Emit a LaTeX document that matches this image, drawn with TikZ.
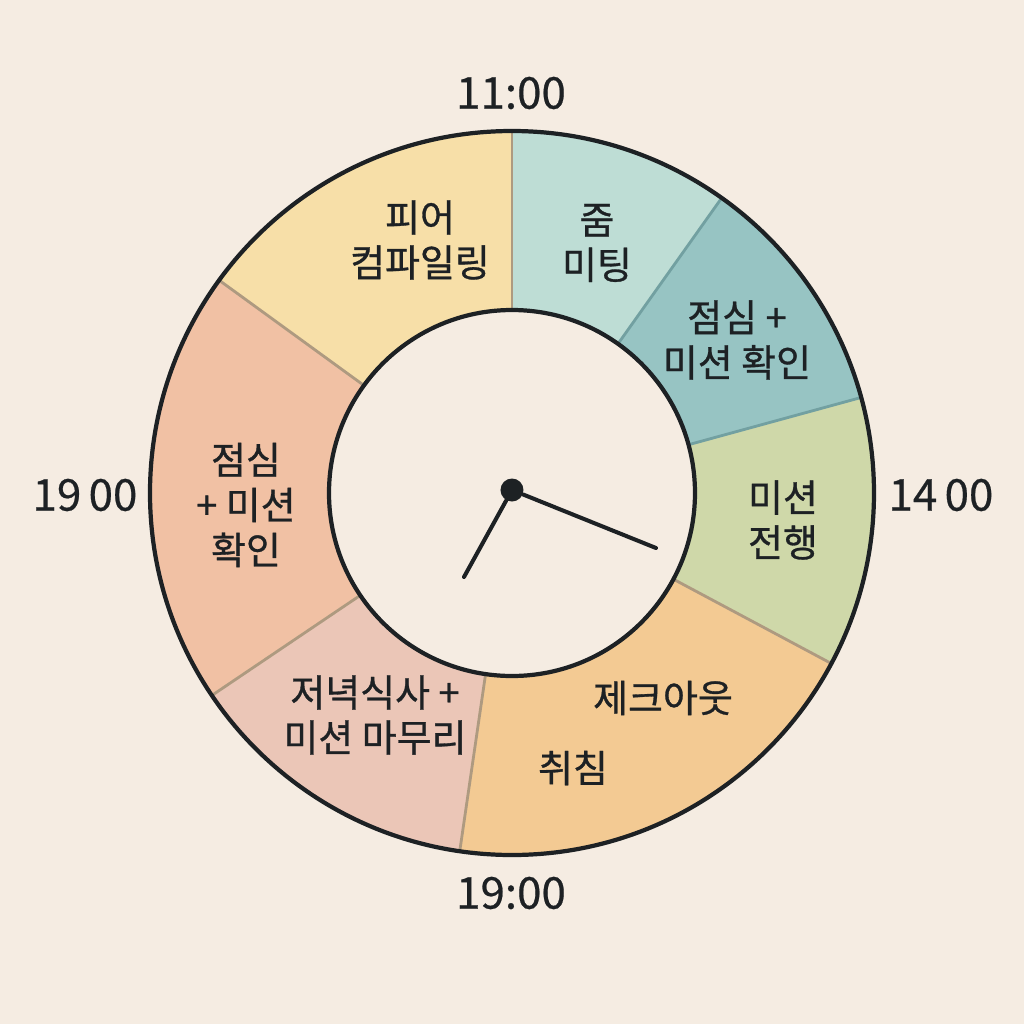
\documentclass[tikz,border=0pt]{standalone}
\usepackage{fontspec}
\setmainfont{Noto Sans CJK KR}
\usepackage{xcolor}
\usepackage{tikz}
\usetikzlibrary{calc}
\definecolor{Paper}{HTML}{F5ECE2}
\definecolor{Ink}{HTML}{1D2124}
\definecolor{Butter}{HTML}{F7DFA8}
\definecolor{Mint}{HTML}{BEDDD5}
\definecolor{Teal}{HTML}{97C4C3}
\definecolor{Sage}{HTML}{CFD8A9}
\definecolor{Apricot}{HTML}{F3CA93}
\definecolor{Rose}{HTML}{EBC6B7}
\definecolor{Salmon}{HTML}{F1C1A4}
\definecolor{WarmSeam}{HTML}{AE9A80}
\definecolor{CoolSeam}{HTML}{72A0A1}
\tikzset{
  slot/.style={align=center, text=Ink, font=\fontsize{10.8}{12.8}\selectfont\addfontfeature{FakeBold=0.8}},
  hour/.style={text=Ink, font=\fontsize{12.5}{14}\selectfont\addfontfeature{FakeBold=0.5}},
  seam/.style={line width=.8pt},
  rim/.style={draw=Ink, line width=1.2pt},
  hand/.style={draw=Ink, line width=1.15pt, line cap=round}
}

\begin{document}
\begin{tikzpicture}
  \useasboundingbox[fill=Paper] (-5.12,-5.31) rectangle (5.12,4.93);
  % ring slices: start angle / end angle / colour
  \foreach \a/\b/\c in {90/144/Butter, 54.6/90/Mint, 15.3/54.6/Teal,
                        -28.1/15.3/Sage, -98.3/-28.1/Apricot,
                        -146/-98.3/Rose, 144/214/Salmon}
    \fill[\c] (\a:3.62) arc[start angle=\a, end angle=\b, radius=3.62]
      -- (\b:1.83) arc[start angle=\b, end angle=\a, radius=1.83] -- cycle;
  \foreach \a/\c in {90/WarmSeam, 54.6/CoolSeam, 15.3/CoolSeam, -28.1/WarmSeam,
                     -98.3/WarmSeam, -146/WarmSeam, 144/WarmSeam}
    \draw[seam,\c] (\a:1.83) -- (\a:3.62);
  \draw[rim] (0,0) circle[radius=3.62];
  \draw[rim] (0,0) circle[radius=1.83];

  \node[slot] (peer) at (-0.92,2.53) {피어\\컴파일링};
  \node[slot] (zoom) at (0.85,2.50) {줌\\미팅};
  \node[slot] (lunchR) at (2.25,1.53) {점심 +\\미션 확인};
  \node[slot] (mission) at (2.71,-0.27) {미션\\전행};
  \node[slot] (checkout) at (1.51,-2.05) {제크아웃};
  \node[slot] (sleep) at (0.61,-2.75) {취침};
  \node[slot] (dinner) at (-1.37,-2.22) {저녁식사 +\\미션 마무리};
  \node[slot] (lunchL) at (-2.66,-0.12) {점심\\+ 미션\\확인};

  \node[hour] (top) at (-0.01,4.00) {11:00};
  \node[hour] (left) at (-4.27,-0.02) {19\,00};
  \node[hour] (right) at (4.29,-0.02) {14\,00};
  \node[hour] (bottom) at (-0.01,-4.00) {19:00};

  % clock hands
  \node[circle, fill=Ink, inner sep=0pt, minimum size=2.3mm] (hub) at (0,0.03) {};
  \coordinate (hourtip) at (-0.48,-0.84);
  \coordinate (minutetip) at (1.44,-0.55);
  \draw[hand] (hub) -- (hourtip);
  \draw[hand] (hub) -- (minutetip);
\end{tikzpicture}
\end{document}
